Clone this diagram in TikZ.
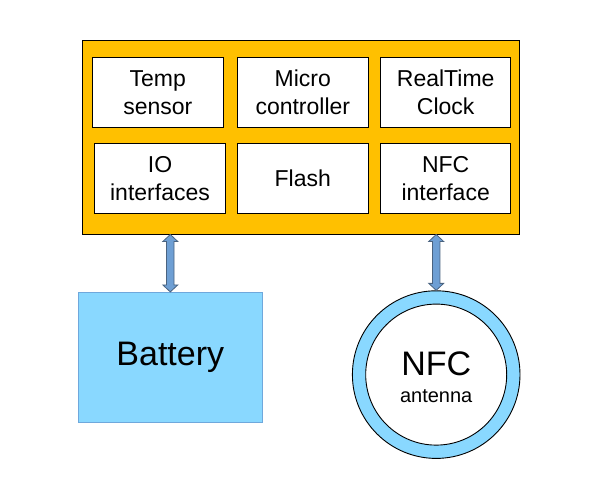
\documentclass[tikz,border=0pt]{standalone}
\usepackage{fontspec}
\setmainfont{Liberation Sans}
\usetikzlibrary{calc}
\definecolor{coreor}{HTML}{FFC000}
\definecolor{lblue}{HTML}{89D8FF}
\definecolor{bborder}{HTML}{6FA8DC}
\definecolor{arfill}{HTML}{6E9FD4}
\definecolor{ardraw}{HTML}{4A6380}
\begin{document}
\begin{tikzpicture}[x=1pt,y=-1pt,
  inbox/.style={draw=black,line width=0.9pt,fill=white,minimum width=131pt,minimum height=70pt,inner sep=0pt,align=center,font=\fontsize{23}{28}\selectfont},
  dblarrow/.style={fill=arfill,draw=ardraw,line width=0.8pt,line join=miter}]
\useasboundingbox (0,0) rectangle (589,499);
\node[draw=black,line width=0.9pt,fill=coreor,minimum width=437pt,minimum height=193.7pt,inner sep=0pt] (core) at (300.8,137.2) {};
\node[inbox] (temp) at (157.8,92.3) {Temp\\sensor};
\node[inbox] (micro) at (302.8,92.3) {Micro\\controller};
\node[inbox,minimum width=130pt] (rtc) at (445.7,92.3) {RealTime\\Clock};
\node[inbox] (io) at (160,178.3) {IO\\interfaces};
\node[inbox] (flash) at (302.8,178.3) {Flash};
\node[inbox,minimum width=130pt] (nfci) at (445.7,178.3) {NFC\\interface};
\node[draw=bborder,line width=0.8pt,fill=lblue,minimum width=184pt,minimum height=130pt,inner sep=0pt,font=\fontsize{34}{40}\selectfont] (batt) at (170.3,357.3) {Battery};
\node[circle,draw=black,line width=0.9pt,fill=lblue,minimum size=167.6pt,inner sep=0pt] (ring) at (436.2,374.6) {};
\node[circle,draw=black,line width=0.9pt,fill=white,minimum size=141pt,inner sep=0pt] (ant) at (ring.center) {};
\node[anchor=base,font=\fontsize{34}{40}\selectfont,inner sep=0pt] (nfct) at (436.2,375) {NFC};
\node[anchor=base,font=\fontsize{20}{24}\selectfont,inner sep=0pt] (antt) at (436.2,402.7) {antenna};
\draw[dblarrow] let \p1=(core.south -| batt.north), \p2=(batt.north) in
  (\x1,\y1) -- (\x1+7.5pt,\y1-7pt) -- (\x1+3.75pt,\y1-7pt) -- (\x1+3.75pt,\y2+7pt) -- (\x1+7.5pt,\y2+7pt) -- (\x1,\y2)
  -- (\x1-7.5pt,\y2+7pt) -- (\x1-3.75pt,\y2+7pt) -- (\x1-3.75pt,\y1-7pt) -- (\x1-7.5pt,\y1-7pt) -- cycle;
\draw[dblarrow] let \p1=(core.south -| ring.north), \p2=(ring.north) in
  (\x1,\y1) -- (\x1+7.5pt,\y1-7pt) -- (\x1+3.75pt,\y1-7pt) -- (\x1+3.75pt,\y2+7pt) -- (\x1+7.5pt,\y2+7pt) -- (\x1,\y2)
  -- (\x1-7.5pt,\y2+7pt) -- (\x1-3.75pt,\y2+7pt) -- (\x1-3.75pt,\y1-7pt) -- (\x1-7.5pt,\y1-7pt) -- cycle;
\end{tikzpicture}
\end{document}
